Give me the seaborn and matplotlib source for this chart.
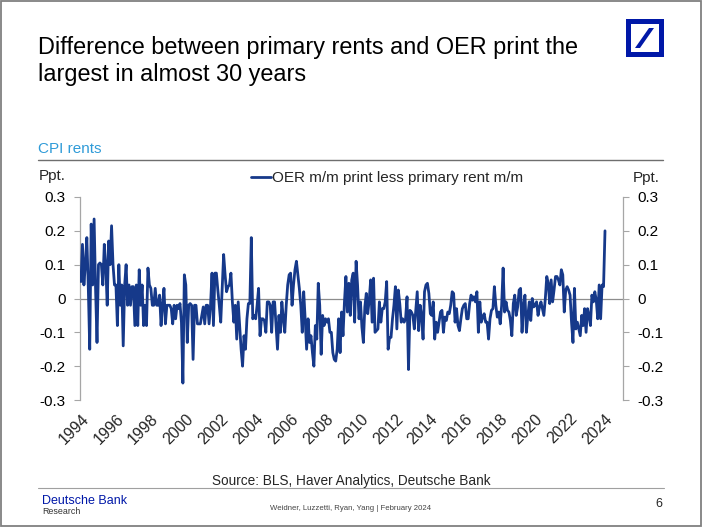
import numpy as np
import pandas as pd
import matplotlib
matplotlib.use("Agg")
import matplotlib.pyplot as plt
from matplotlib import patches
from matplotlib.lines import Line2D
import seaborn as sns

# ---------------- data (monthly, Jan 1994 - Jan 2024), ppt ----------------
oer_1994_1999 = [
    0.05, 0.16, 0.04, 0.10, 0.18, 0.035, -0.15, 0.22, 0.04, 0.235, 0.03, -0.13,
    0.10, 0.105, 0.10, 0.04, 0.16, 0.10, -0.02, 0.17, 0.10, 0.215, 0.10, 0.04,
    0.04, -0.08, 0.10, -0.02, 0.04, -0.14, 0.04, 0.10, -0.02, 0.04, -0.02, 0.035,
    0.035, -0.08, 0.04, -0.08, 0.085, -0.02, 0.04, -0.08, -0.02, -0.08, 0.09, 0.04,
    0.03, -0.02, -0.02, 0.03, -0.02, -0.02, 0.01, -0.08, -0.02, 0.03, -0.075, -0.02,
    -0.02, -0.02, -0.03, -0.075, -0.02, -0.06, -0.02, -0.03, -0.015, -0.07, -0.25, 0.07,
]
oer_2000_2009 = [
    0.04, -0.13, -0.02, -0.015, -0.02, -0.18, -0.02, -0.02, -0.075, -0.075, -0.075, -0.05,
    -0.025, -0.075, -0.02, -0.02, -0.075, -0.02, 0.075, -0.08, 0.075, 0.075, 0.025, -0.02,
    -0.07, 0.03, 0.13, 0.07, 0.02, 0.035, 0.04, 0.075, -0.01, -0.07, -0.02, -0.12,
    -0.01, -0.08, -0.15, -0.20, -0.11, -0.15, -0.06, -0.015, -0.015, 0.18, -0.06, -0.05,
    -0.06, -0.02, 0.03, -0.11, -0.06, -0.06, -0.065, -0.10, -0.01, -0.01, -0.02, -0.10,
    -0.01, -0.01, -0.08, -0.15, -0.05, -0.10, -0.01, -0.06, -0.10, -0.02, 0.04, 0.07,
    0.075, -0.02, 0.04, 0.085, 0.11, 0.07, 0.03, -0.02, -0.10, 0.02, -0.06, -0.15,
    -0.06, -0.13, -0.11, -0.16, -0.20, -0.08, -0.12, 0.045, -0.02, -0.165, -0.05, -0.08,
    -0.06, -0.07, -0.06, -0.10, -0.10, -0.16, -0.18, -0.185, -0.15, -0.06, -0.16, -0.04,
    -0.11, -0.01, 0.065, -0.04, 0.045, -0.05, 0.055, 0.075, -0.07, 0.11, 0.04, -0.06,
]
oer_2010_2019 = [
    -0.01, -0.085, -0.13, -0.025, 0.015, -0.045, -0.005, 0.055, -0.07, 0.06, -0.10, -0.095,
    -0.09, -0.01, -0.07, -0.03, -0.03, -0.01, 0.05, -0.15, -0.115, -0.115, -0.06, -0.02,
    0.035, -0.09, 0.025, -0.015, -0.07, -0.06, -0.07, -0.06, 0.005, -0.21, -0.035, -0.04,
    -0.05, -0.09, -0.035, 0.02, -0.095, -0.02, -0.05, -0.12, 0.02, 0.04, 0.045, 0.015,
    -0.045, -0.05, -0.01, -0.12, -0.07, -0.10, -0.07, -0.04, -0.035, -0.10, -0.055, -0.065,
    -0.04, -0.045, -0.02, 0.02, 0.015, -0.07, -0.03, -0.08, -0.095, -0.06, -0.03, -0.02,
    -0.015, -0.06, -0.06, -0.015, 0.01, -0.005, 0.005, -0.01, 0.02, -0.10, -0.01, -0.07,
    -0.055, -0.045, -0.07, -0.07, -0.12, -0.06, -0.035, -0.03, 0.035, -0.02, -0.055, -0.04,
    -0.075, -0.02, 0.09, -0.04, -0.01, -0.035, -0.04, -0.065, -0.11, -0.015, 0.01, -0.05,
    -0.025, 0.025, 0.03, -0.10, -0.02, 0.01, -0.10, -0.05, -0.01, -0.065, 0.0, -0.025,
]
oer_2020_2024 = [
    -0.02, -0.01, -0.05, -0.025, -0.01, -0.03, -0.05, 0.0, 0.065, 0.045, -0.015, 0.055,
    -0.01, 0.025, 0.065, 0.065, 0.055, 0.04, 0.085, 0.07, -0.04, 0.025, 0.035, 0.025,
    0.01, -0.07, -0.13, 0.03, -0.09, -0.07, -0.09, -0.11, -0.05, -0.08, -0.03, -0.10,
    -0.03, -0.05, -0.08, 0.01, -0.01, 0.02, -0.005, -0.06, 0.04, -0.06, 0.04, 0.035,
    0.20,
]
start_month = "1994-01"
tick_years = list(range(1994, 2025, 2))
y_ticks = [-0.3, -0.2, -0.1, 0.0, 0.1, 0.2, 0.3]
y_tick_labels = ["-0.3", "-0.2", "-0.1", "0", "0.1", "0.2", "0.3"]
series_label = "OER m/m print less primary rent m/m"

values = oer_1994_1999 + oer_2000_2009 + oer_2010_2019 + oer_2020_2024
dates = pd.date_range(start_month, periods=len(values), freq="MS")
df = pd.DataFrame({"pos": np.arange(len(values)), "date": dates, "value": values})

# ---------------- style ----------------
sns.set_style("white")
plt.rcParams["font.family"] = ["Liberation Sans", "DejaVu Sans"]

LINE = "#16398A"
AXIS_GREY = "#A6A6A6"
DB_BLUE = "#0018A8"

W, H = 702, 527
fig = plt.figure(figsize=(W / 100, H / 100), dpi=100)


def fx(px):
    return px / W


def fy(py):
    return 1 - py / H


ax = fig.add_axes([fx(80), fy(400), fx(623) - fx(80), fy(197) - fy(400)])
ax.axhline(0, color="#8C8C8C", lw=0.9, zorder=1)
sns.lineplot(data=df, x="pos", y="value", ax=ax, color=LINE, lw=2.0,
             legend=False, zorder=3)

step = (605 - 81) / 360.0
ax.set_xlim(-(81 - 80) / step, (623 - 81) / step)
ax.set_ylim(-0.3, 0.3)
ax.set_xlabel("")
ax.set_ylabel("")

tick_mask = (df["date"].dt.month == 1) & (df["date"].dt.year.isin(tick_years))
ax.set_xticks(df.loc[tick_mask, "pos"])
ax.set_xticklabels([str(d.year) for d in df.loc[tick_mask, "date"]],
                   rotation=45, ha="right", va="top", rotation_mode="anchor",
                   fontsize=11.5)
ax.tick_params(axis="x", length=0, pad=8)

ax.set_yticks(y_ticks)
ax.set_yticklabels(y_tick_labels, fontsize=11)
ax.tick_params(axis="y", length=4, width=0.8, color=AXIS_GREY, pad=6.5,
               labelcolor="black", direction="out", left=True)

ax2 = ax.twinx()
ax2.set_ylim(-0.3, 0.3)
ax2.set_yticks(y_ticks)
ax2.set_yticklabels(y_tick_labels, fontsize=11)
ax2.tick_params(axis="y", length=4, width=0.8, color=AXIS_GREY, pad=6,
                labelcolor="black", direction="out", right=True)

for a in (ax, ax2):
    for s in ("top", "bottom"):
        a.spines[s].set_visible(False)
ax.spines["right"].set_visible(False)
ax2.spines["left"].set_visible(False)
ax.spines["left"].set_color(AXIS_GREY)
ax2.spines["right"].set_color(AXIS_GREY)
ax.spines["left"].set_linewidth(0.9)
ax2.spines["right"].set_linewidth(0.9)

# legend
handle = Line2D([], [], color=LINE, lw=2.0)
fig.legend([handle], [series_label], loc="center left",
           bbox_to_anchor=(fx(251), fy(178)), bbox_transform=fig.transFigure,
           frameon=False, fontsize=11, handlelength=1.3, handletextpad=0.1,
           borderpad=0, borderaxespad=0)

# axis unit labels
fig.text(fx(39), fy(180), "Ppt.", fontsize=11, ha="left", va="baseline")
fig.text(fx(633), fy(182), "Ppt.", fontsize=11, ha="left", va="baseline")

# titles
fig.text(fx(38), fy(54), "Difference between primary rents and OER print the",
         fontsize=16.9, ha="left", va="baseline", color="black")
fig.text(fx(38), fy(81), "largest in almost 30 years",
         fontsize=16.9, ha="left", va="baseline", color="black")
fig.text(fx(38), fy(153), "CPI rents", fontsize=11, ha="left", va="baseline",
         color="#2F9BD8")

# rules
fig.add_artist(Line2D([fx(38), fx(663)], [fy(160), fy(160)], color="#6E6E6E",
                      lw=1.0, transform=fig.transFigure))
fig.add_artist(Line2D([fx(38), fx(664)], [fy(488), fy(488)], color="#A0A0A0",
                      lw=0.8, transform=fig.transFigure))

# footer
fig.text(fx(351), fy(485), "Source: BLS, Haver Analytics, Deutsche Bank",
         fontsize=9.8, ha="center", va="baseline")
fig.text(fx(42), fy(504), "Deutsche Bank", fontsize=9, ha="left",
         va="baseline", color=DB_BLUE)
fig.text(fx(42), fy(514), "Research", fontsize=6.4, ha="left",
         va="baseline", color="#333333")
fig.text(fx(351), fy(510), "Weidner, Luzzetti, Ryan, Yang | February 2024",
         fontsize=5.6, ha="center", va="baseline", color="#444444")
fig.text(fx(662), fy(507), "6", fontsize=9, ha="right", va="baseline")

# logo
fig.add_artist(patches.Rectangle((fx(626), fy(57)), fx(38), 38 / H,
                                 transform=fig.transFigure, color=DB_BLUE, lw=0))
fig.add_artist(patches.Rectangle((fx(631), fy(52)), fx(28), 28 / H,
                                 transform=fig.transFigure, color="white", lw=0))
fig.add_artist(patches.Polygon(
    [(fx(635), fy(48)), (fx(640), fy(48)), (fx(654), fy(28)), (fx(649), fy(28))],
    closed=True, transform=fig.transFigure, color=DB_BLUE, lw=0))

# slide border
fig.add_artist(patches.Rectangle((0.0015, 0.002), 0.997, 0.996,
                                 transform=fig.transFigure, fill=False,
                                 ec="#808080", lw=1.3))

fig.savefig("out.png", dpi=100)
